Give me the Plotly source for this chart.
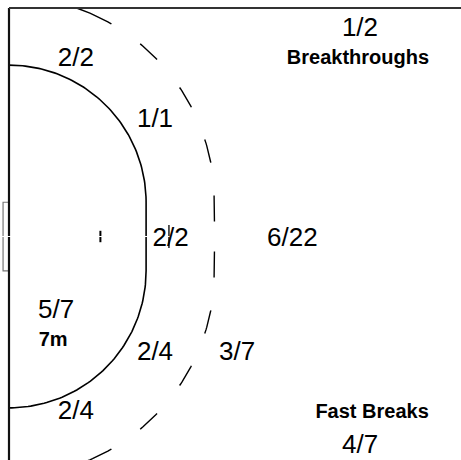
import numpy as np
import plotly.graph_objects as go

# ---- data -------------------------------------------------------------
zones = ["Breakthroughs", "Wing top", "6m top", "6m centre", "9m centre",
         "7m", "6m bottom", "9m bottom", "Wing bottom", "Fast Breaks"]
goals = [1, 2, 1, 2, 6, 5, 2, 3, 2, 4]
attempts = [2, 2, 1, 2, 22, 7, 4, 7, 4, 7]
zone_titles = ["Breakthroughs", "7m", "Fast Breaks"]

# label placement (metres: x from goal line, y across the court)
label_pos = {
    "Breakthroughs": (15.36, 9.04),
    "Wing top": (2.93, 7.73),
    "6m top": (6.39, 5.06),
    "6m centre": (7.07, -0.13),
    "9m centre": (12.4, -0.13),
    "7m": (2.06, -3.30),
    "6m bottom": (6.39, -5.10),
    "9m bottom": (9.98, -5.10),
    "Wing bottom": (2.93, -7.72),
    "Fast Breaks": (15.37, -9.17),
}
title_pos = {
    "Breakthroughs": (15.27, 7.75),
    "7m": (1.93, -4.58),
    "Fast Breaks": (15.89, -7.72),
}

# ---- court geometry ---------------------------------------------------
PX = 22.85            # pixels per metre
W, H = 461, 460
x0 = -9 / PX
y_top = 10 + 8 / PX
xr = [x0, x0 + W / PX]
yr = [y_top - H / PX, y_top]

fig = go.Figure()

def line(x, y, color="#000", width=1.5, dash="solid"):
    fig.add_trace(go.Scatter(x=x, y=y, mode="lines", hoverinfo="skip",
                             showlegend=False,
                             line=dict(color=color, width=width, dash=dash)))

# 6 m line
phi = np.linspace(np.pi / 2, 0, 80)
top6x = 6 * np.cos(phi)
top6y = 1.5 + 6 * np.sin(phi)
x6 = np.concatenate([top6x, top6x[::-1]])
y6 = np.concatenate([top6y, -top6y[::-1]])
line(x6, y6, width=1.6)

# 9 m dashed line, drawn outward from the centre for each half
phimax = np.arcsin(8.5 / 9)
phi9 = np.linspace(0, phimax, 90)
h9x = np.concatenate([[9], 9 * np.cos(phi9)])
h9y = np.concatenate([[0], 1.5 + 9 * np.sin(phi9)])
dash9 = "0px,15px,26px,33px,24px,35px,23px,36px,23px,35px,60px"
for s in (1, -1):
    line(h9x, s * h9y, width=1.4, dash=dash9)

# goal
line([0, -0.26, -0.26, 0], [1.5, 1.5, -1.5, -1.5], color="#777", width=1.2)
# goal line
line([0, 0], [10, yr[0]], color="#111", width=2.2)
# 4 m and 7 m marks
line([4, 4], [-0.25, 0.25], width=2)
line([7, 7], [-0.5, 0.5], width=1.3)
# white centre line
line([-0.5, 7.5], [0, 0], color="#fff", width=1)

# sideline
fig.add_shape(type="line", x0=0, x1=25, y0=10, y1=10, xref="x", yref="y",
              line=dict(color="#333", width=1.8), layer="above")

# ---- labels -----------------------------------------------------------
txt = [f"{g}/{a}" for g, a in zip(goals, attempts)]
fig.add_trace(go.Scatter(
    x=[label_pos[z][0] for z in zones], y=[label_pos[z][1] for z in zones],
    text=txt, mode="text", textposition="middle center", hoverinfo="skip",
    showlegend=False, cliponaxis=False,
    textfont=dict(family="Liberation Sans, Arial, sans-serif", size=26, color="#000")))
fig.add_trace(go.Scatter(
    x=[title_pos[z][0] for z in zone_titles], y=[title_pos[z][1] for z in zone_titles],
    text=zone_titles, mode="text", textposition="middle center", hoverinfo="skip",
    showlegend=False, cliponaxis=False,
    textfont=dict(family="Liberation Sans, Arial, sans-serif", size=20,
                  color="#000", weight="bold")))

fig.update_layout(
    width=W, height=H, margin=dict(l=0, r=0, t=0, b=0),
    paper_bgcolor="#fff", plot_bgcolor="#fff",
    xaxis=dict(range=xr, visible=False, fixedrange=True),
    yaxis=dict(range=yr, visible=False, fixedrange=True),
)
fig.write_html("out.html", config={"displayModeBar": False},
               post_script="document.body.style.margin='0';document.body.style.overflow='hidden';")
